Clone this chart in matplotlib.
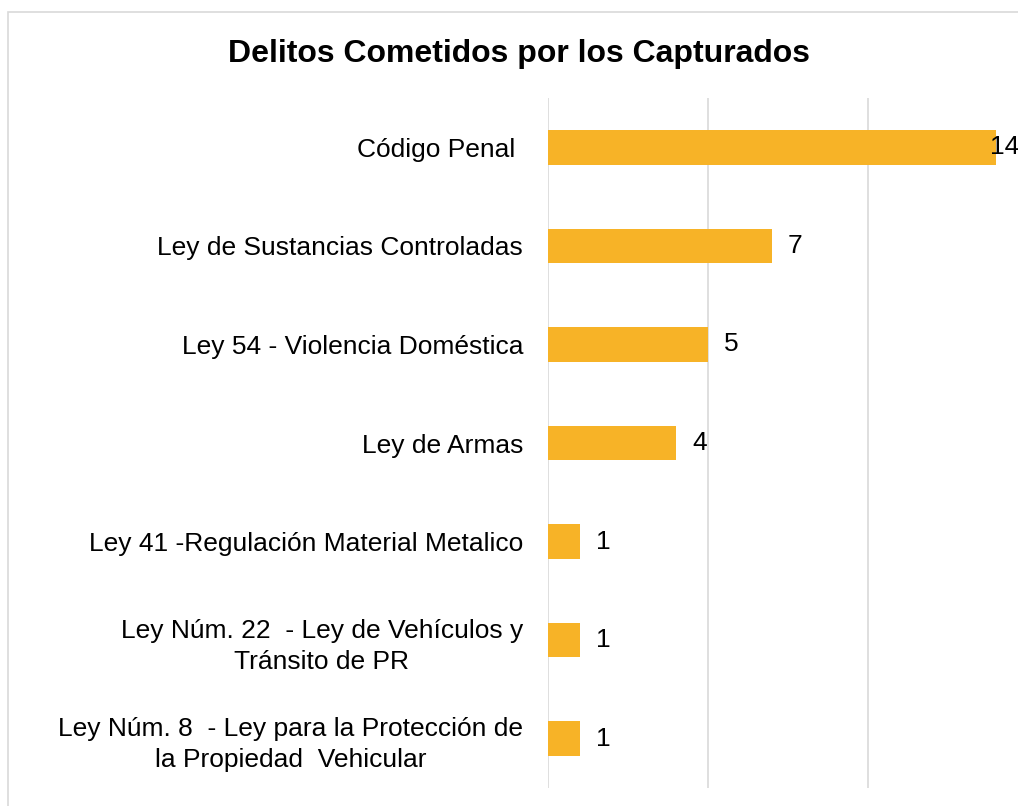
import matplotlib
matplotlib.use("Agg")
import matplotlib.pyplot as plt
from matplotlib.patches import Rectangle

categories = [
    "Código Penal ",
    "Ley de Sustancias Controladas",
    "Ley 54 - Violencia Doméstica",
    "Ley de Armas",
    "Ley 41 -Regulación Material Metalico",
    "Ley Núm. 22  - Ley de Vehículos y\nTránsito de PR",
    "Ley Núm. 8  - Ley para la Protección de\nla Propiedad  Vehicular",
]
values = [14, 7, 5, 4, 1, 1, 1]
title = "Delitos Cometidos por los Capturados"

plt.rcParams['font.family'] = ['Liberation Sans', 'DejaVu Sans']

W, H = 1018, 806
fig = plt.figure(figsize=(W / 100, H / 100), dpi=100)
fig.patch.set_facecolor('white')

# chart border (cropped at right/bottom)
fig.patches.append(Rectangle((8 / W, -0.2), 2.0, 1 - 12 / H + 0.2,
                             transform=fig.transFigure, fill=False,
                             edgecolor='#d9d9d9', linewidth=1.2))

ax_left = 548 / W
ax_width = 480 / W
ax_bottom = (H - 788) / H
ax_height = (788 - 98) / H
ax = fig.add_axes([ax_left, ax_bottom, ax_width, ax_height])

ypos = list(range(len(categories)))
ax.barh(ypos, values, height=0.35, color='#F7B327', zorder=3)
ax.set_xlim(0, 15)
ax.set_ylim(len(categories) - 0.5, -0.5)
ax.set_xticks([0, 5, 10, 15])
ax.xaxis.grid(True, color='#d9d9d9', linewidth=1.2, zorder=0)
ax.tick_params(axis='x', which='both', length=0, labelbottom=False)
ax.tick_params(axis='y', length=0, pad=18)
ax.set_yticks(ypos)
ax.set_yticklabels(categories, fontsize=19, color='black',
                   multialignment='center', linespacing=1.38)
for s in ax.spines.values():
    s.set_visible(False)

for y, v in zip(ypos, values):
    x = min(v + 0.5, 13.8)
    ax.text(x, y, str(v), va='center', ha='left', fontsize=19,
            color='black', zorder=4, clip_on=False)

fig.text(519 / W, 1 - 54 / H, title, ha='center', va='center',
         fontsize=23, fontweight='bold', color='black')

fig.savefig('out.png', dpi=100, facecolor='white')
